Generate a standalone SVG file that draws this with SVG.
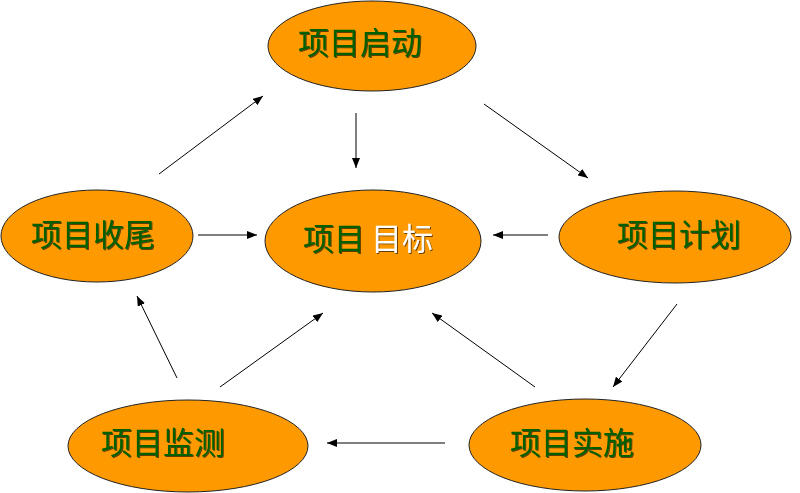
<svg xmlns="http://www.w3.org/2000/svg" width="800" height="493" viewBox="0 0 800 493">
<defs>
<style>
.node ellipse{fill:#FF9900;stroke:#222;stroke-width:1}
.lbl{font-family:"Noto Sans CJK SC","Noto Sans CJK TC",sans-serif;font-size:31px;font-weight:400;fill:#006000;filter:url(#sh)}
.wh{fill:#FFFFFF}
#edges line{stroke:#000;stroke-width:1;marker-end:url(#ah)}
</style>
<filter id="sh" x="-10%" y="-20%" width="120%" height="140%">
<feDropShadow dx="1" dy="1" stdDeviation="0" flood-color="#000" flood-opacity="0.6"/>
</filter>
<marker id="ah" viewBox="0 0 10 8" refX="10" refY="4" markerWidth="10" markerHeight="8" markerUnits="userSpaceOnUse" orient="auto">
<path d="M0,0 L10,4 L0,8 Z" fill="#000"/>
</marker>
</defs>
<rect width="800" height="493" fill="#fff"/>
<g id="edges">
<line x1="356" y1="113" x2="356" y2="168"/>
<line x1="159" y1="174" x2="263" y2="96"/>
<line x1="198" y1="235" x2="257" y2="235"/>
<line x1="484" y1="104" x2="588" y2="178"/>
<line x1="548" y1="235" x2="493" y2="235"/>
<line x1="677" y1="304" x2="613" y2="387"/>
<line x1="535" y1="387" x2="432" y2="313"/>
<line x1="445" y1="443" x2="327" y2="443"/>
<line x1="177" y1="378" x2="137" y2="296"/>
<line x1="220" y1="387" x2="323" y2="313"/>
</g>
<g id="start" class="node"><ellipse cx="372" cy="46" rx="104" ry="45"/><text class="lbl" x="298" y="54">项目启动</text></g>
<g id="goal" class="node"><ellipse cx="373" cy="241" rx="108" ry="51"/><text class="lbl" x="303" y="250">项目<tspan class="wh" x="371">目标</tspan></text></g>
<g id="close" class="node"><ellipse cx="97" cy="236" rx="96" ry="46"/><text class="lbl" x="31" y="246">项目收尾</text></g>
<g id="plan" class="node"><ellipse cx="675" cy="237" rx="116" ry="46"/><text class="lbl" x="617" y="246">项目计划</text></g>
<g id="monitor" class="node"><ellipse cx="188" cy="446" rx="120" ry="46"/><text class="lbl" x="101" y="454">项目监测</text></g>
<g id="exec" class="node"><ellipse cx="585" cy="445" rx="116" ry="46"/><text class="lbl" x="510" y="454">项目实施</text></g>
</svg>
